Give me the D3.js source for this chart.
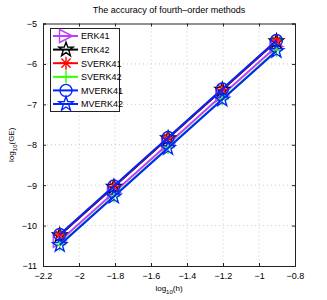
<!DOCTYPE html>
<html>
<head>
<meta charset="utf-8">
<script src="https://cdn.jsdelivr.net/npm/d3@7"></script>
<style>
  body { margin: 0; background: #fff; }
  text { font-family: "Liberation Sans", Arial, sans-serif; }
</style>
</head>
<body>
<div id="chart"></div>
<script>
// log10(h) for h = 1/128 ... 1/8
const logH = [-2.107, -1.806, -1.505, -1.204, -0.903];

const names = ["ERK41", "ERK42", "SVERK41", "SVERK42", "MVERK41", "MVERK42"];
const erk41 = [-10.38, -9.18, -7.98, -6.77, -5.57];
const erk42 = [-10.24, -9.04, -7.84, -6.64, -5.44];
const sverk41 = [-10.23, -9.03, -7.83, -6.63, -5.43];
const sverk42 = [-10.47, -9.27, -8.07, -6.87, -5.66];
const mverk41 = [-10.22, -9.02, -7.82, -6.62, -5.42];
const mverk42 = [-10.48, -9.28, -8.08, -6.88, -5.68];

const xTicks = [-2.2, -2, -1.8, -1.6, -1.4, -1.2, -1, -0.8];
const yTicks = [-11, -10, -9, -8, -7, -6, -5];

const series = [
  {name: names[0], vals: erk41, color: "#bf3fff", marker: "tri"},
  {name: names[1], vals: erk42, color: "#000000", marker: "star"},
  {name: names[2], vals: sverk41, color: "#ff0000", marker: "ast"},
  {name: names[3], vals: sverk42, color: "#33ff00", marker: "plus"},
  {name: names[4], vals: mverk41, color: "#0026ff", marker: "circle"},
  {name: names[5], vals: mverk42, color: "#0026ff", marker: "star"}
];

const width = 327, height = 300;
const pLeft = 43, pRight = 295, pTop = 23.5, pBottom = 266;

const svg = d3.select("#chart").append("svg")
  .attr("width", width).attr("height", height);

const x = d3.scaleLinear().domain([-2.2, -0.8]).range([pLeft, pRight]);
const y = d3.scaleLinear().domain([-11, -5]).range([pBottom, pTop]);

const fmt = d => String(d).replace("-", "\u2212");

// grid
svg.append("g").selectAll("line").data(xTicks.slice(1, -1)).join("line")
  .attr("x1", d => x(d)).attr("x2", d => x(d))
  .attr("y1", pTop).attr("y2", pBottom)
  .attr("stroke", "#bbb").attr("stroke-width", 0.8).attr("stroke-dasharray", "1,3");
svg.append("g").selectAll("line").data(yTicks.slice(1, -1)).join("line")
  .attr("x1", pLeft).attr("x2", pRight)
  .attr("y1", d => y(d)).attr("y2", d => y(d))
  .attr("stroke", "#bbb").attr("stroke-width", 0.8).attr("stroke-dasharray", "1,3");

// axes (ticks inward)
const xAxis = svg.append("g").attr("transform", `translate(0,${pBottom})`)
  .call(d3.axisBottom(x).tickValues(xTicks).tickSize(-3).tickPadding(7).tickFormat(fmt));
const xAxisTop = svg.append("g").attr("transform", `translate(0,${pTop})`)
  .call(d3.axisTop(x).tickValues(xTicks).tickSize(-3).tickFormat(""));
const yAxis = svg.append("g").attr("transform", `translate(${pLeft},0)`)
  .call(d3.axisLeft(y).tickValues(yTicks).tickSize(-3).tickPadding(6).tickFormat(fmt));
const yAxisR = svg.append("g").attr("transform", `translate(${pRight},0)`)
  .call(d3.axisRight(y).tickValues(yTicks).tickSize(-3).tickFormat(""));
[xAxis, xAxisTop, yAxis, yAxisR].forEach(a => {
  a.select(".domain").attr("stroke", "#222").attr("stroke-width", 1);
  a.selectAll("line").attr("stroke", "#222");
  a.selectAll("text").attr("font-size", 9).attr("fill", "#000")
    .style("font-family", "Liberation Sans, Arial, sans-serif");
});

// marker shapes
function drawMarker(g, type, cx, cy, color) {
  const s = 6.5;
  if (type === "tri") {
    g.append("path")
      .attr("d", `M${cx - s},${cy - s}L${cx + s},${cy}L${cx - s},${cy + s}Z`)
      .attr("fill", "none").attr("stroke", color).attr("stroke-width", 1.4);
  } else if (type === "star") {
    const pts = [];
    for (let i = 0; i < 10; i++) {
      const r = i % 2 === 0 ? 7.5 : 3;
      const a = -Math.PI / 2 + i * Math.PI / 5;
      pts.push([cx + r * Math.cos(a), cy + r * Math.sin(a)]);
    }
    g.append("path").attr("d", "M" + pts.join("L") + "Z")
      .attr("fill", "none").attr("stroke", color).attr("stroke-width", 1.4);
  } else if (type === "ast") {
    for (let i = 0; i < 4; i++) {
      const a = i * Math.PI / 4;
      g.append("line")
        .attr("x1", cx - s * Math.cos(a)).attr("y1", cy - s * Math.sin(a))
        .attr("x2", cx + s * Math.cos(a)).attr("y2", cy + s * Math.sin(a))
        .attr("stroke", color).attr("stroke-width", 1.4);
    }
  } else if (type === "plus") {
    g.append("path").attr("d", `M${cx - s},${cy}H${cx + s}M${cx},${cy - s}V${cy + s}`)
      .attr("stroke", color).attr("stroke-width", 1.4);
  } else if (type === "circle") {
    g.append("circle").attr("cx", cx).attr("cy", cy).attr("r", 6)
      .attr("fill", "none").attr("stroke", color).attr("stroke-width", 1.4);
  }
}

const line = d3.line().x((d, i) => x(logH[i])).y(d => y(d));
const plot = svg.append("g");
series.forEach(s => {
  plot.append("path").datum(s.vals).attr("d", line)
    .attr("fill", "none").attr("stroke", s.color).attr("stroke-width", 2);
  s.vals.forEach((v, i) => drawMarker(plot, s.marker, x(logH[i]), y(v), s.color));
});

// legend
const lg = svg.append("g");
lg.append("rect").attr("x", 50.5).attr("y", 28.5).attr("width", 69).attr("height", 83)
  .attr("fill", "#fff").attr("stroke", "#222").attr("stroke-width", 1);
series.forEach((s, i) => {
  const ly = 36 + i * 13.6;
  lg.append("line").attr("x1", 53).attr("x2", 78).attr("y1", ly).attr("y2", ly)
    .attr("stroke", s.color).attr("stroke-width", 2);
  drawMarker(lg, s.marker, 66, ly, s.color);
  lg.append("text").attr("x", 81).attr("y", ly + 3.3).attr("font-size", 9).text(s.name);
});

// title and labels
svg.append("text").attr("x", (pLeft + pRight) / 2).attr("y", 13)
  .attr("text-anchor", "middle").attr("font-size", 9)
  .text("The accuracy of fourth\u2013order methods");

const xl = svg.append("text").attr("x", (pLeft + pRight) / 2).attr("y", 291)
  .attr("text-anchor", "middle").attr("font-size", 8);
xl.append("tspan").text("log");
xl.append("tspan").attr("font-size", 6).attr("dy", 2.5).text("10");
xl.append("tspan").attr("dy", -2.5).text("(h)");

const yl = svg.append("text")
  .attr("transform", `translate(14,${(pTop + pBottom) / 2}) rotate(-90)`)
  .attr("text-anchor", "middle").attr("font-size", 8);
yl.append("tspan").text("log");
yl.append("tspan").attr("font-size", 6).attr("dy", 2.5).text("10");
yl.append("tspan").attr("dy", -2.5).text("(GE)");
</script>
</body>
</html>
